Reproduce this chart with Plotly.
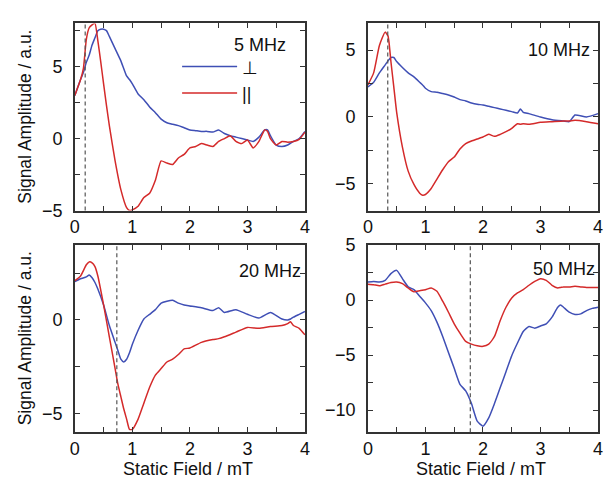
import plotly.graph_objects as go

# ---------------- data ----------------
field_5 = [0, 0.1, 0.15, 0.2, 0.25, 0.3, 0.35, 0.4, 0.45, 0.5, 0.55, 0.6, 0.7, 0.8, 0.9, 0.95, 1.0, 1.1, 1.2, 1.3, 1.4, 1.5,
           1.6, 1.7, 1.8, 1.9, 2.0, 2.1, 2.2, 2.3, 2.4, 2.5, 2.6, 2.7, 2.8, 2.9, 3.0, 3.1, 3.2, 3.3, 3.35, 3.4, 3.5, 3.6,
           3.7, 3.8, 3.9, 4.0]
perp_5 = [3.0, 4.1, 4.6, 5.3, 5.8, 6.5, 7.0, 7.5, 7.6, 7.6, 7.5, 7.1, 6.25, 5.4, 4.35, 4.1, 3.8, 3.1, 2.7, 2.2, 1.8, 1.35,
          1.1, 1.0, 0.9, 0.75, 0.6, 0.55, 0.5, 0.5, 0.45, 0.6, 0.35, 0.2, 0.1, 0.0, -0.1, -0.2, 0.1, 0.6, 0.6, 0.2, -0.45,
          -0.55, -0.45, -0.2, 0.0, 0.5]
para_5 = [3.0, 4.1, 4.9, 6.9, 7.7, 7.9, 8.0, 6.8, 5.35, 3.8, 2.3, 0.9, -1.55, -3.55, -4.8, -5.0, -4.95, -4.7, -4.1, -3.8,
          -2.9, -1.55, -1.7, -1.8, -1.35, -1.1, -0.65, -0.55, -0.35, -0.45, -0.55, -0.2, 0.0, 0.2, -0.2, -0.35, -0.1,
          -0.65, -0.2, 0.6, 0.5, 0.0, -0.45, -0.2, -0.25, -0.2, -0.05, 0.45]

field_10 = [0, 0.1, 0.2, 0.3, 0.35, 0.4, 0.45, 0.5, 0.6, 0.7, 0.8, 0.9, 0.95, 1.0, 1.1, 1.2, 1.3, 1.4, 1.5, 1.6, 1.7, 1.8,
            1.9, 2.0, 2.1, 2.2, 2.3, 2.4, 2.5, 2.6, 2.65, 2.7, 2.8, 3.0, 3.2, 3.4, 3.5, 3.6, 3.8, 4.0]
perp_10 = [2.25, 2.6, 3.3, 3.9, 4.2, 4.45, 4.45, 4.15, 3.7, 3.3, 3.0, 2.6, 2.4, 2.15, 1.9, 1.85, 1.75, 1.65, 1.5, 1.3,
           1.2, 1.05, 0.95, 0.9, 0.8, 0.7, 0.6, 0.5, 0.4, 0.3, 0.6, 0.35, 0.25, 0.0, -0.2, -0.3, -0.35, 0.15, 0.0, 0.25]
para_10 = [2.4, 3.3, 5.35, 6.35, 6.05, 4.15, 2.25, 0.35, -2.25, -4.05, -5.05, -5.7, -5.85, -5.8, -5.35, -4.65, -3.95,
           -3.35, -3.0, -2.4, -2.0, -1.8, -1.65, -1.5, -1.3, -1.45, -1.3, -1.1, -0.85, -0.5, -0.55, -0.5, -0.55, -0.4,
           -0.35, -0.3, -0.3, -0.25, -0.35, -0.5]

field_20 = [0, 0.1, 0.2, 0.25, 0.3, 0.35, 0.4, 0.5, 0.6, 0.7, 0.75, 0.8, 0.85, 0.9, 0.95, 1.0, 1.1, 1.2, 1.3, 1.4, 1.5,
            1.6, 1.7, 1.8, 1.9, 2.0, 2.2, 2.4, 2.5, 2.6, 2.8, 3.0, 3.2, 3.4, 3.6, 3.7, 3.75, 3.8, 3.9, 4.0]
perp_20 = [2.05, 2.2, 2.3, 2.4, 2.25, 2.0, 1.65, 0.8, -0.3, -1.2, -1.65, -2.1, -2.25, -2.1, -1.75, -1.3, -0.55, 0.05,
           0.3, 0.55, 0.9, 1.0, 1.05, 0.9, 0.8, 0.75, 0.65, 0.5, 0.65, 0.4, 0.55, 0.3, 0.1, 0.4, 0.05, 0.0, 0.05, 0.15,
           0.3, 0.45]
para_20 = [2.1, 2.35, 2.95, 3.1, 3.05, 2.85, 2.35, 0.8, -0.9, -2.6, -3.45, -4.1, -4.75, -5.3, -5.85, -5.85, -5.3, -4.45,
           -3.6, -2.95, -2.6, -2.25, -2.1, -1.85, -1.55, -1.5, -1.2, -1.05, -1.0, -0.9, -0.65, -0.4, -0.45, -0.35, -0.3,
           -0.2, -0.1, -0.3, -0.45, -0.8]

field_50 = [0, 0.1, 0.2, 0.3, 0.4, 0.5, 0.6, 0.7, 0.8, 0.9, 1.0, 1.1, 1.2, 1.3, 1.4, 1.5, 1.6, 1.7, 1.8, 1.9, 2.0, 2.1,
            2.2, 2.3, 2.4, 2.5, 2.6, 2.7, 2.8, 2.9, 3.0, 3.1, 3.2, 3.3, 3.35, 3.4, 3.5, 3.6, 3.7, 3.8, 3.9, 4.0]
perp_50 = [1.65, 1.7, 1.65, 1.8, 2.4, 2.7, 1.95, 1.2, 0.95, 0.35, -0.25, -0.95, -2.0, -3.3, -4.75, -6.2, -7.65, -8.25,
           -9.4, -11.0, -11.45, -10.7, -9.4, -7.95, -6.5, -5.05, -3.9, -2.85, -2.4, -2.55, -2.35, -2.15, -1.55, -0.65,
           -0.45, -0.65, -1.1, -1.3, -1.25, -0.95, -0.75, -0.65]
para_50 = [1.45, 1.4, 1.3, 1.45, 1.6, 1.65, 1.5, 1.1, 0.75, 0.85, 0.95, 1.1, 0.8, -0.1, -1.1, -2.15, -3.0, -3.75, -4.0,
           -4.15, -4.2, -4.0, -3.3, -1.85, -0.65, 0.2, 0.65, 0.95, 1.35, 1.7, 1.95, 1.8, 1.35, 1.1, 1.15, 1.2, 1.2, 1.25,
           1.2, 1.15, 1.15, 1.15]

panel_labels = ["5 MHz", "10 MHz", "20 MHz", "50 MHz"]
resonance_field = [0.18, 0.345, 0.73, 1.78]
y_ranges = [[-5, 8], [-7, 7], [-6, 4], [-12, 5]]
series_names = ["⊥", "||"]

fields = [field_5, field_10, field_20, field_50]
perps = [perp_5, perp_10, perp_20, perp_50]
paras = [para_5, para_10, para_20, para_50]

# ---------------- style / layout ----------------
W, H = 605, 494
BLUE = "#3f4fb5"
RED = "#d42a2a"
FONT = "Liberation Sans, Arial, sans-serif"
FS = 18
FRAME = "#333333"

# pixel boxes of the four panels: (left, right, top, bottom)
boxes = [(71, 305, 14, 209), (369, 603, 14, 209), (71, 305, 245, 440), (369, 603, 245, 440)]

fig = go.Figure()

for i in range(4):
    ax = "" if i == 0 else str(i + 1)
    xa, ya = "x" + ax, "y" + ax
    fig.add_trace(go.Scatter(x=fields[i], y=perps[i], mode="lines", name=series_names[0],
                             line=dict(color=BLUE, width=1.5, shape="spline", smoothing=0.5),
                             xaxis=xa, yaxis=ya, showlegend=(i == 0)))
    fig.add_trace(go.Scatter(x=fields[i], y=paras[i], mode="lines", name=series_names[1],
                             line=dict(color=RED, width=1.5, shape="spline", smoothing=0.5),
                             xaxis=xa, yaxis=ya, showlegend=(i == 0)))
    l, r, t, b = boxes[i]
    axis_common = dict(showline=True, linecolor=FRAME, linewidth=1.5, mirror="ticks",
                       ticks="inside", ticklen=5, tickwidth=1.2, tickcolor=FRAME,
                       showgrid=False, zeroline=False,
                       tickfont=dict(family=FONT, size=FS, color="#111"))
    fig.layout["xaxis" + ax] = dict(axis_common, domain=[l / W, r / W], range=[0, 4], dtick=1, tick0=0,
                                    anchor=ya,
                                    minor=dict(dtick=0.5, ticks="inside", ticklen=5, tickcolor=FRAME,
                                               tickwidth=1.2, showgrid=False),
                                    ticklabelstandoff=-1)
    fig.layout["yaxis" + ax] = dict(axis_common, domain=[1 - b / H, 1 - t / H], range=y_ranges[i], dtick=5,
                                    tick0=0, anchor=xa,
                                    minor=dict(dtick=2.5, ticks="inside", ticklen=5, tickcolor=FRAME,
                                               tickwidth=1.2, showgrid=False),
                                    ticklabelstandoff=7)
    fig.add_shape(type="line", x0=resonance_field[i], x1=resonance_field[i], y0=0, y1=1,
                  xref=xa, yref=ya + " domain",
                  line=dict(color="#555555", width=1.2, dash="4px,3px"))

# panel frequency labels
label_pos = [(288, 36), (597, 42), (303, 272), (602, 270)]
for i, (px, py) in enumerate(label_pos):
    fig.add_annotation(text=panel_labels[i], xref="paper", yref="paper", x=px / W, y=1 - py / H,
                       xanchor="right", yanchor="middle", showarrow=False,
                       font=dict(family=FONT, size=FS, color="#111"))

# axis titles
for (l, r, t, b) in [boxes[0], boxes[2]]:
    fig.add_annotation(text="Signal Amplitude / a.u.", xref="paper", yref="paper", x=20 / W,
                       y=1 - ((t + b) / 2) / H, textangle=-90, showarrow=False,
                       xanchor="center", yanchor="middle",
                       font=dict(family=FONT, size=17.5, color="#111"))
for (l, r, t, b) in [boxes[2], boxes[3]]:
    fig.add_annotation(text="Static Field / mT", xref="paper", yref="paper", x=((l + r) / 2 - 2) / W,
                       y=1 - 478 / H, showarrow=False, xanchor="center", yanchor="middle",
                       font=dict(family=FONT, size=FS, color="#111"))

fig.update_layout(
    width=W, height=H,
    margin=dict(l=0, r=0, t=0, b=0),
    paper_bgcolor="white", plot_bgcolor="white",
    showlegend=True,
    legend=dict(x=175 / W, y=1 - 40 / H, xanchor="left", yanchor="top",
                bgcolor="rgba(0,0,0,0)", borderwidth=0, itemwidth=55,
                font=dict(family=FONT, size=FS, color="#111"), tracegroupgap=0),
)

fig.write_html("out.html", config={"displayModeBar": False},
               post_script="document.body.style.margin='0';document.body.style.overflow='hidden';")
